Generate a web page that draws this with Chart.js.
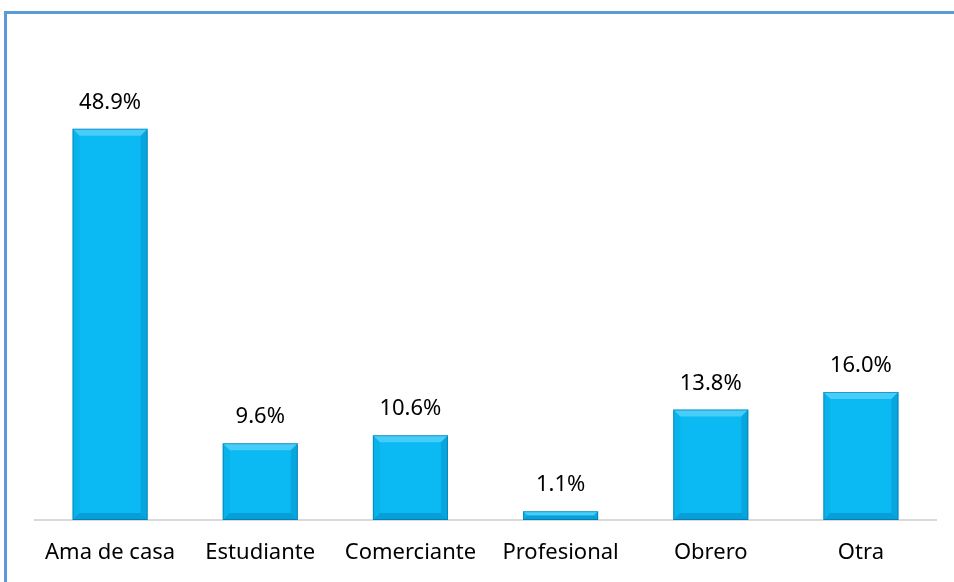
<!DOCTYPE html>
<html>
<head>
<meta charset="utf-8">
<script src="https://cdn.jsdelivr.net/npm/chart.js@4"></script>
<style>
  html, body { margin: 0; padding: 0; background: #fff; overflow: hidden; }
  #wrap { position: absolute; left: 0; top: 0; width: 954px; height: 582px; }
  #frame { position: absolute; left: 4px; top: 11px; width: 1000px; height: 700px;
           border-left: 3px solid #5B9BD5; border-top: 3px solid #5B9BD5; }
</style>
</head>
<body>
<div id="wrap"><canvas id="barChart" width="954" height="582"></canvas></div>
<div id="frame"></div>
<script>
var categories = ["Ama de casa", "Estudiante", "Comerciante", "Profesional", "Obrero", "Otra"];
var percentages = [48.9, 9.6, 10.6, 1.1, 13.8, 16.0];
var valueLabels = ["48.9%", "9.6%", "10.6%", "1.1%", "13.8%", "16.0%"];

// bevel look of the excel bars
var bevelPlugin = {
    id: "bevel",
    afterDatasetsDraw: function (chart) {
        var ctx = chart.ctx;
        chart.getDatasetMeta(0).data.forEach(function (bar, i) {
            var w = bar.width, x0 = bar.x - w / 2, x1 = bar.x + w / 2;
            var y0 = bar.y, y1 = bar.base;
            var b = Math.min(7, (y1 - y0) / 2);
            ctx.save();
            // top
            ctx.fillStyle = "rgba(120,220,255,0.55)";
            ctx.beginPath();
            ctx.moveTo(x0, y0); ctx.lineTo(x1, y0); ctx.lineTo(x1 - b, y0 + b); ctx.lineTo(x0 + b, y0 + b);
            ctx.closePath(); ctx.fill();
            // left
            ctx.fillStyle = "rgba(0,150,210,0.2)";
            ctx.beginPath();
            ctx.moveTo(x0, y0); ctx.lineTo(x0 + b, y0 + b); ctx.lineTo(x0 + b, y1 - b); ctx.lineTo(x0, y1);
            ctx.closePath(); ctx.fill();
            // right
            ctx.fillStyle = "rgba(0,120,180,0.3)";
            ctx.beginPath();
            ctx.moveTo(x1, y0); ctx.lineTo(x1 - b, y0 + b); ctx.lineTo(x1 - b, y1 - b); ctx.lineTo(x1, y1);
            ctx.closePath(); ctx.fill();
            // bottom
            ctx.fillStyle = "rgba(0,110,170,0.35)";
            ctx.beginPath();
            ctx.moveTo(x0, y1); ctx.lineTo(x0 + b, y1 - b); ctx.lineTo(x1 - b, y1 - b); ctx.lineTo(x1, y1);
            ctx.closePath(); ctx.fill();
            ctx.strokeStyle = "rgba(0,90,140,0.45)";
            ctx.lineWidth = 1;
            ctx.strokeRect(x0 + 0.5, y0 + 0.5, w - 1, y1 - y0 - 1);
            ctx.restore();

            // value label
            ctx.save();
            ctx.fillStyle = "#000";
            ctx.font = "22px 'Noto Sans', sans-serif";
            ctx.textAlign = "center";
            ctx.textBaseline = "middle";
            ctx.fillText(valueLabels[i], bar.x, y0 - 26);
            ctx.restore();
        });
    }
};

document.addEventListener("DOMContentLoaded", function () {
    var ctx = document.getElementById("barChart").getContext("2d");
    new Chart(ctx, {
        type: "bar",
        data: {
            labels: categories,
            datasets: [{
                data: percentages,
                backgroundColor: "#0BBAF2",
                borderWidth: 0,
                categoryPercentage: 1.0,
                barPercentage: 0.5
            }]
        },
        options: {
            responsive: false,
            animation: false,
            layout: { padding: { left: 35, right: 18, top: 40, bottom: 0 } },
            plugins: {
                legend: { display: false },
                tooltip: { enabled: false }
            },
            scales: {
                y: {
                    display: false,
                    min: 0,
                    max: 60
                },
                x: {
                    grid: { display: false, drawTicks: false },
                    border: { display: true, color: "#D9D9D9", width: 2 },
                    afterFit: function (axis) { axis.height = 62; },
                    ticks: {
                        color: "#000",
                        padding: 20,
                        maxRotation: 0,
                        font: { family: "'Noto Sans', sans-serif", size: 22 }
                    }
                }
            }
        },
        plugins: [bevelPlugin]
    });
});
</script>
</body>
</html>
